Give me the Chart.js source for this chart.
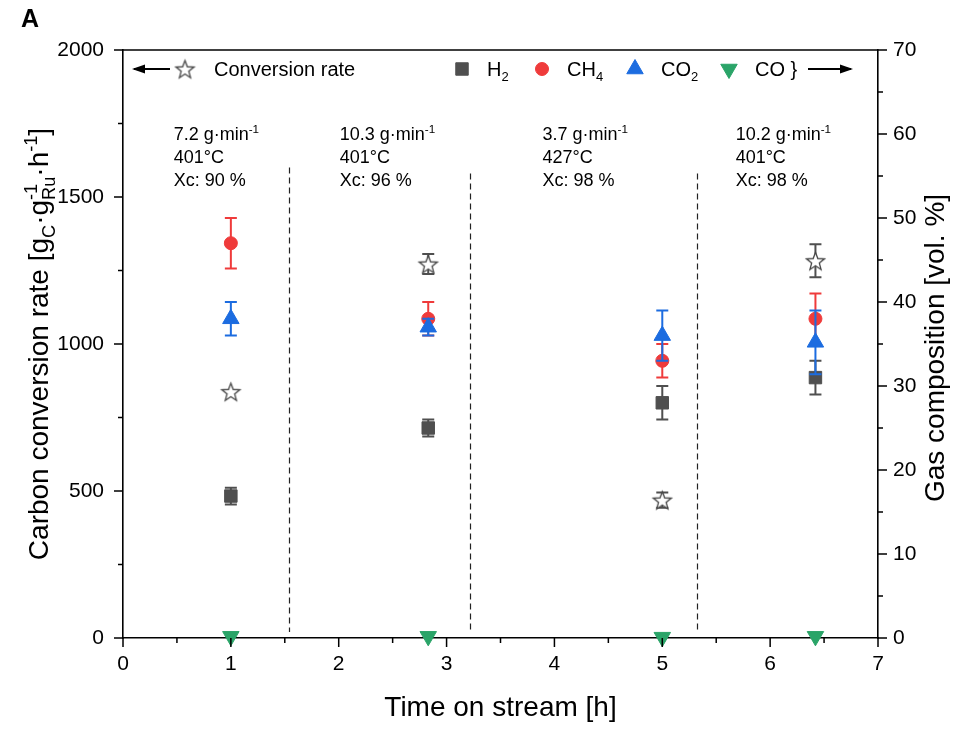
<!DOCTYPE html>
<html>
<head>
<meta charset="utf-8">
<title>Carbon conversion rate and gas composition</title>
<script src="https://cdn.jsdelivr.net/npm/chart.js@4.4.1/dist/chart.umd.min.js"></script>
<style>
  html, body { margin: 0; padding: 0; background: #fff; }
  #wrap { width: 956px; height: 731px; }
</style>
</head>
<body>
<div id="wrap"><canvas id="chart" width="956" height="731"></canvas></div>
<script>
const FONT = '"Liberation Sans", Arial, Helvetica, sans-serif';

// time on stream [h]
const times = [1, 2.83, 5, 6.42];

// carbon conversion rate (left axis)
const conversion = [838, 1272, 469, 1283];
const conversionErr = [0, 34, 26, 56];

// gas composition in vol. % (right axis)
const h2 = [16.9, 25.0, 28.0, 31.0];
const h2Err = [1.0, 1.0, 2.0, 2.0];
const ch4 = [47.0, 38.0, 33.0, 38.0];
const ch4Err = [3.0, 2.0, 2.0, 3.0];
const co2 = [38.0, 37.0, 36.0, 35.2];
const co2Err = [2.0, 1.0, 3.0, 3.8];
const co = [0.2, 0.2, 0.1, 0.2];

// conditions of each period
const feedRates = ['7.2', '10.3', '3.7', '10.2'];
const temperatures = ['401°C', '401°C', '427°C', '401°C'];
const xcValues = ['90', '96', '98', '98'];
const periodChanges = [1.54, 3.22, 5.32];

// where things go (in axis units)
const noteX = [0.47, 2.01, 3.89, 5.68];
const dividerTop = [1600, 1580, 1580];

const GREY = '#4f4f4f';
const RED = '#ef3b3b';
const BLUE = '#1c6ce0';
const GREEN = '#2aa468';
const STAR = '#474747';

function starImage(r, color) {
    const size = Math.ceil(r * 2 + 4);
    const c = document.createElement('canvas');
    c.width = c.height = size;
    const g = c.getContext('2d');
    g.beginPath();
    for (let i = 0; i < 10; i++) {
        const rr = i % 2 ? r * 0.42 : r;
        const a = -Math.PI / 2 + i * Math.PI / 5;
        g.lineTo(size / 2 + rr * Math.cos(a), size / 2 + 1 + rr * Math.sin(a));
    }
    g.closePath();
    g.fillStyle = '#fff';
    g.fill();
    g.strokeStyle = color;
    g.lineWidth = 1.3;
    g.stroke();
    return c;
}
const star = starImage(9.5, STAR);

function pts(values) {
    return times.map((t, i) => ({ x: t, y: values[i] }));
}

// text with sub/superscripts, parts are strings or {sup, sub}
function richWidth(ctx, parts, size) {
    let w = 0;
    parts.forEach(p => {
        if (typeof p === 'string') {
            ctx.font = size + 'px ' + FONT;
            w += ctx.measureText(p).width;
        } else {
            ctx.font = (size * 0.65) + 'px ' + FONT;
            w += Math.max(p.sup ? ctx.measureText(p.sup).width : 0, p.sub ? ctx.measureText(p.sub).width : 0);
        }
    });
    return w;
}

function drawRich(ctx, parts, x, y, size) {
    let cx = x;
    parts.forEach(p => {
        if (typeof p === 'string') {
            ctx.font = size + 'px ' + FONT;
            ctx.fillText(p, cx, y);
            cx += ctx.measureText(p).width;
        } else {
            ctx.font = (size * 0.65) + 'px ' + FONT;
            let w = 0;
            if (p.sup) {
                ctx.fillText(p.sup, cx, y - size * 0.38);
                w = Math.max(w, ctx.measureText(p.sup).width);
            }
            if (p.sub) {
                ctx.fillText(p.sub, cx, y + size * 0.24);
                w = Math.max(w, ctx.measureText(p.sub).width);
            }
            cx += w;
        }
    });
}

function drawAxisTicks(ctx, scale, step, minor, side, edge) {
    ctx.beginPath();
    for (let v = scale.min; v <= scale.max + 1e-9; v += minor) {
        const major = Math.abs(v / step - Math.round(v / step)) < 1e-6;
        const len = major ? 9 : 5;
        const p = scale.getPixelForValue(v);
        if (side === 'left') { ctx.moveTo(edge - len, p); ctx.lineTo(edge, p); }
        if (side === 'right') { ctx.moveTo(edge, p); ctx.lineTo(edge + len, p); }
        if (side === 'bottom') { ctx.moveTo(p, edge); ctx.lineTo(p, edge + len); }
    }
    ctx.stroke();
}

function marker(ctx, style, x, y, r, color, rotation) {
    ctx.fillStyle = color;
    ctx.strokeStyle = color;
    ctx.lineWidth = 1;
    Chart.helpers.drawPoint(ctx, { pointStyle: style, radius: r, rotation: rotation || 0, borderWidth: 1 }, x, y);
}

function arrow(ctx, x1, x2, y, headLeft) {
    ctx.beginPath();
    ctx.moveTo(x1, y);
    ctx.lineTo(x2, y);
    ctx.lineWidth = 2;
    ctx.strokeStyle = '#000';
    ctx.stroke();
    const hx = headLeft ? x1 - 2 : x2 + 2;
    const d = headLeft ? 13 : -13;
    ctx.beginPath();
    ctx.moveTo(hx, y);
    ctx.lineTo(hx + d, y - 4.5);
    ctx.lineTo(hx + d, y + 4.5);
    ctx.closePath();
    ctx.fillStyle = '#000';
    ctx.fill();
}

const errorBars = {
    id: 'errorBars',
    beforeDatasetDraw(chart, args) {
        const ds = chart.data.datasets[args.index];
        if (!ds.errors) return;
        const ctx = chart.ctx;
        const yScale = chart.scales[ds.yAxisID];
        ctx.save();
        ctx.strokeStyle = ds.errorColor;
        ctx.lineWidth = 2;
        args.meta.data.forEach((pt, i) => {
            const e = ds.errors[i];
            if (!e) return;
            const top = yScale.getPixelForValue(ds.data[i].y + e);
            const bot = yScale.getPixelForValue(ds.data[i].y - e);
            ctx.beginPath();
            ctx.moveTo(pt.x, top); ctx.lineTo(pt.x, bot);
            ctx.moveTo(pt.x - 6, top); ctx.lineTo(pt.x + 6, top);
            ctx.moveTo(pt.x - 6, bot); ctx.lineTo(pt.x + 6, bot);
            ctx.stroke();
        });
        ctx.restore();
    }
};

const decorations = {
    id: 'decorations',
    beforeDatasetsDraw(chart) {
        const { ctx, scales } = chart;
        ctx.save();
        ctx.setLineDash([6, 4]);
        ctx.lineWidth = 1.2;
        ctx.strokeStyle = '#222';
        periodChanges.forEach((t, i) => {
            const x = Math.round(scales.x.getPixelForValue(t)) + 0.5;
            ctx.beginPath();
            ctx.moveTo(x, scales.y.getPixelForValue(dividerTop[i]));
            ctx.lineTo(x, scales.y.getPixelForValue(20));
            ctx.stroke();
        });
        ctx.restore();
    },
    afterDraw(chart) {
        const { ctx, chartArea: a, scales } = chart;
        ctx.save();

        // frame top and ticks
        ctx.strokeStyle = '#000';
        ctx.lineWidth = 1.6;
        ctx.beginPath();
        ctx.moveTo(a.left, a.top);
        ctx.lineTo(a.right, a.top);
        ctx.stroke();
        ctx.lineWidth = 1.5;
        drawAxisTicks(ctx, scales.y, 500, 250, 'left', a.left);
        drawAxisTicks(ctx, scales.y2, 10, 5, 'right', a.right);
        drawAxisTicks(ctx, scales.x, 1, 0.5, 'bottom', a.bottom);

        ctx.fillStyle = '#000';
        ctx.textBaseline = 'alphabetic';
        ctx.textAlign = 'left';

        // panel letter
        ctx.font = 'bold 25px ' + FONT;
        ctx.fillText('A', 21, 27);

        // left title
        const leftTitle = ['Carbon conversion rate [g', { sub: 'C' }, '\u00B7g', { sup: '-1', sub: 'Ru' }, '\u00B7h', { sup: '-1' }, ']'];
        const cy = (a.top + a.bottom) / 2;
        ctx.save();
        ctx.translate(48, cy);
        ctx.rotate(-Math.PI / 2);
        drawRich(ctx, leftTitle, -richWidth(ctx, leftTitle, 28) / 2, 0, 28);
        ctx.restore();

        // right title
        const rightTitle = ['Gas composition [vol. %]'];
        ctx.save();
        ctx.translate(944, cy + 4);
        ctx.rotate(-Math.PI / 2);
        drawRich(ctx, rightTitle, -richWidth(ctx, rightTitle, 28) / 2, 0, 28);
        ctx.restore();

        // period notes
        noteX.forEach((t, i) => {
            const x = scales.x.getPixelForValue(t);
            ctx.fillStyle = '#000';
            drawRich(ctx, [feedRates[i] + ' g\u00B7min', { sup: '-1' }], x, 140, 18);
            drawRich(ctx, [temperatures[i]], x, 163, 18);
            drawRich(ctx, ['Xc: ' + xcValues[i] + ' %'], x, 186, 18);
        });

        // legend
        const ly = 69;
        arrow(ctx, 134, 170, ly, true);
        ctx.drawImage(star, 185 - star.width / 2, ly - star.height / 2);
        ctx.fillStyle = '#000';
        drawRich(ctx, ['Conversion rate'], 214, ly + 7, 20);

        marker(ctx, 'rect', 462, ly, 8.8, GREY);
        ctx.fillStyle = '#000';
        drawRich(ctx, ['H', { sub: '2' }], 487, ly + 7, 20);
        marker(ctx, 'circle', 542, ly, 6.5, RED);
        ctx.fillStyle = '#000';
        drawRich(ctx, ['CH', { sub: '4' }], 567, ly + 7, 20);
        marker(ctx, 'triangle', 635, ly, 9.5, BLUE);
        ctx.fillStyle = '#000';
        drawRich(ctx, ['CO', { sub: '2' }], 661, ly + 7, 20);
        marker(ctx, 'triangle', 729, ly, 9.5, GREEN, 180);
        ctx.fillStyle = '#000';
        drawRich(ctx, ['CO }'], 755, ly + 7, 20);
        arrow(ctx, 808, 851, ly, false);

        ctx.restore();
    }
};

const tickFont = { family: FONT, size: 21 };

new Chart(document.getElementById('chart'), {
    type: 'scatter',
    data: {
        datasets: [
            {
                label: 'Conversion rate',
                data: pts(conversion),
                yAxisID: 'y',
                pointStyle: star,
                errors: conversionErr,
                errorColor: GREY
            },
            {
                label: 'CO',
                data: pts(co),
                yAxisID: 'y2',
                pointStyle: 'triangle',
                rotation: 180,
                pointRadius: 9.5,
                backgroundColor: GREEN,
                borderColor: GREEN,
                borderWidth: 1
            },
            {
                label: 'CO2',
                data: pts(co2),
                yAxisID: 'y2',
                pointStyle: 'triangle',
                pointRadius: 9.5,
                backgroundColor: BLUE,
                borderColor: BLUE,
                borderWidth: 1,
                errors: co2Err,
                errorColor: BLUE
            },
            {
                label: 'CH4',
                data: pts(ch4),
                yAxisID: 'y2',
                pointStyle: 'circle',
                pointRadius: 6.5,
                backgroundColor: RED,
                borderColor: RED,
                borderWidth: 1,
                errors: ch4Err,
                errorColor: RED
            },
            {
                label: 'H2',
                data: pts(h2),
                yAxisID: 'y2',
                pointStyle: 'rect',
                pointRadius: 8.8,
                backgroundColor: GREY,
                borderColor: GREY,
                borderWidth: 1,
                errors: h2Err,
                errorColor: GREY
            }
        ]
    },
    options: {
        responsive: false,
        animation: false,
        devicePixelRatio: 1,
        events: [],
        clip: false,
        layout: { padding: { top: 50, left: 0, right: 0, bottom: 0 } },
        plugins: {
            legend: { display: false },
            tooltip: { enabled: false }
        },
        elements: { point: { hoverRadius: 0 } },
        scales: {
            x: {
                type: 'linear',
                min: 0,
                max: 7,
                grid: { display: false, drawTicks: false },
                border: { display: true, color: '#000', width: 1.6 },
                ticks: { stepSize: 1, padding: 14, color: '#000', font: tickFont },
                title: {
                    display: true,
                    text: 'Time on stream [h]',
                    color: '#000',
                    font: { family: FONT, size: 28 },
                    padding: { top: 0, bottom: 6 }
                },
                afterFit(scale) { scale.height = 93; }
            },
            y: {
                position: 'left',
                min: 0,
                max: 2000,
                grid: { display: false, drawTicks: false },
                border: { display: true, color: '#000', width: 1.6 },
                ticks: { stepSize: 500, padding: 19, color: '#000', font: tickFont, callback: v => String(v) },
                afterFit(scale) { scale.width = 123; }
            },
            y2: {
                position: 'right',
                min: 0,
                max: 70,
                grid: { display: false, drawTicks: false },
                border: { display: true, color: '#000', width: 1.6 },
                ticks: { stepSize: 10, padding: 15, color: '#000', font: tickFont, callback: v => String(v) },
                afterFit(scale) { scale.width = 78; }
            }
        }
    },
    plugins: [errorBars, decorations]
});
</script>
</body>
</html>
